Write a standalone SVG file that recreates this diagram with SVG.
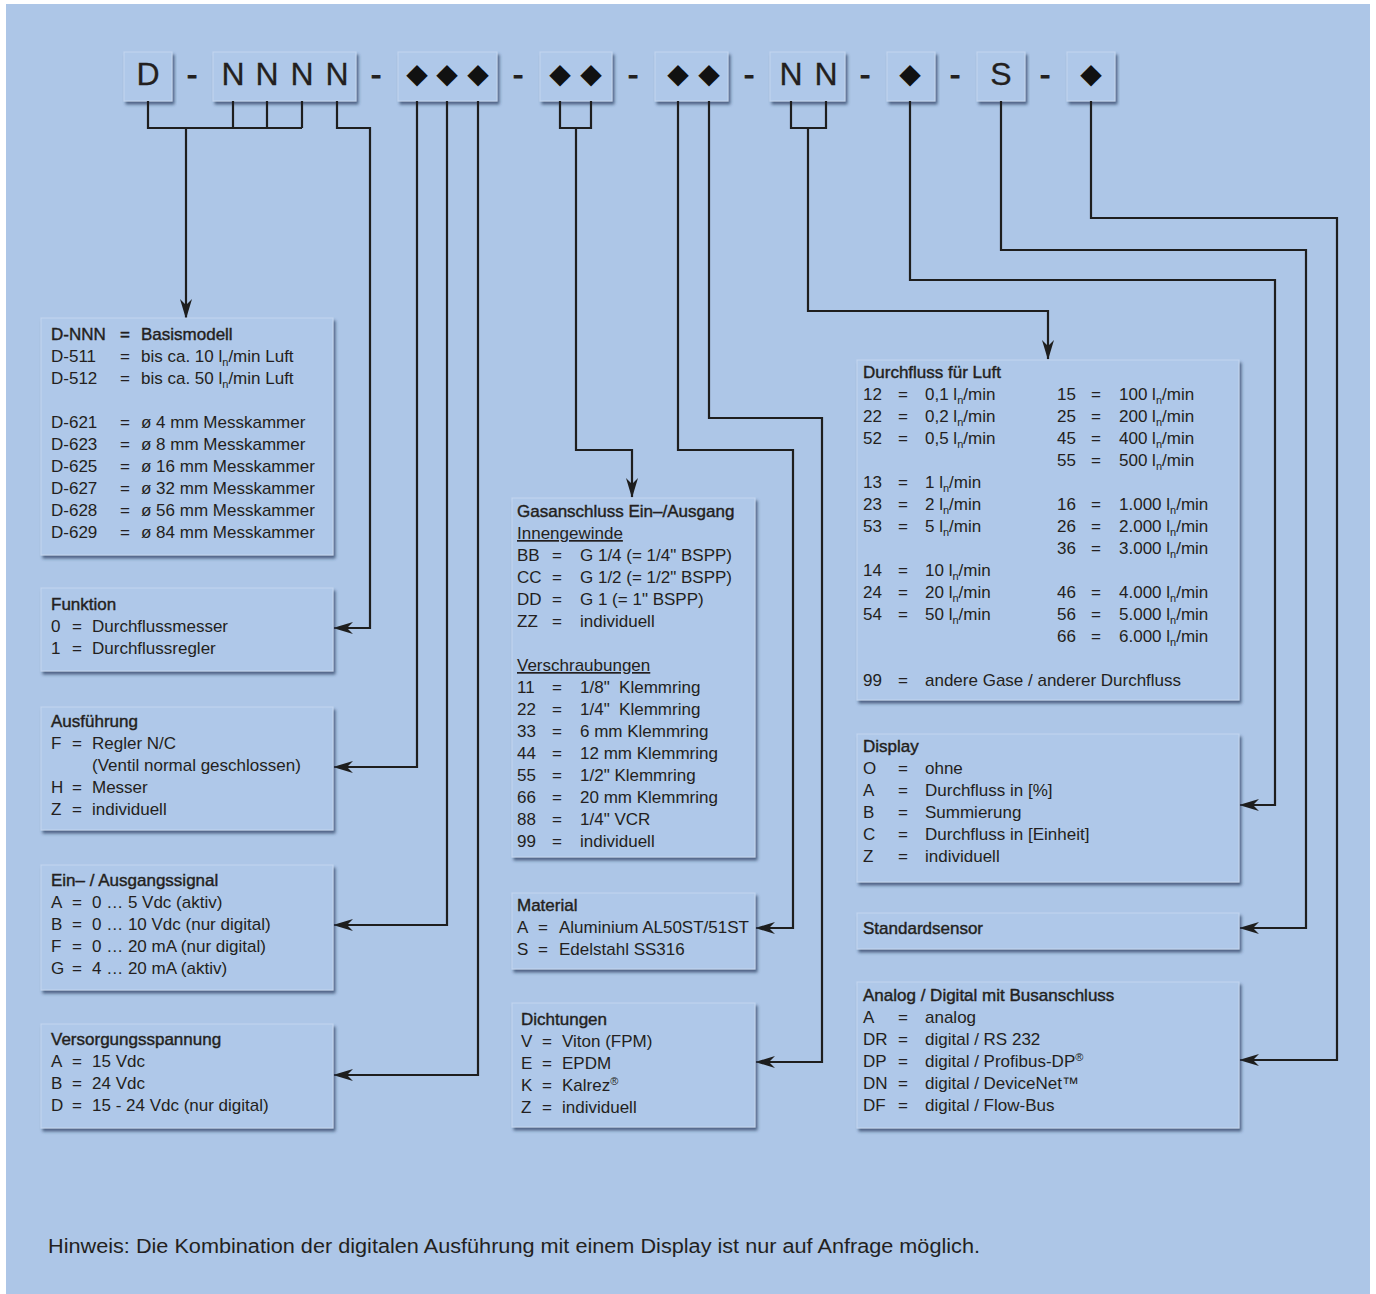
<svg xmlns="http://www.w3.org/2000/svg" width="1376" height="1294" viewBox="0 0 1376 1294">
<style>
.bg{fill:#adc6e7}
.box{fill:#afc8e9;stroke:#c3d6ef;stroke-width:1;filter:url(#sh)}
.t{font-family:"Liberation Sans",Arial,sans-serif;font-size:17px;fill:#231f20}
.h{stroke:#231f20;stroke-width:0.4}
.sb{font-size:11px}
.u{text-decoration:underline}
.big{font-family:"Liberation Sans",Arial,sans-serif;font-size:32px;fill:#231f20;text-anchor:middle;stroke:#231f20;stroke-width:0.3}
.dsh{font-family:"Liberation Sans",Arial,sans-serif;font-size:32px;fill:#231f20;text-anchor:middle;stroke:#231f20;stroke-width:0.9}
.dia{font-family:"DejaVu Sans",sans-serif;font-size:28px;fill:#111;text-anchor:middle}
.c{fill:none;stroke:#1e1e1e;stroke-width:2.2}
.ca{fill:none;stroke:#1e1e1e;stroke-width:2.2;marker-end:url(#ah)}
</style>
<defs>
<filter id="sh" x="-5%" y="-10%" width="115%" height="130%">
<feDropShadow dx="2" dy="3" stdDeviation="1.8" flood-color="#2f4264" flood-opacity="0.75"/>
</filter>
<marker id="ah" markerWidth="20" markerHeight="12" refX="19" refY="6" orient="auto" markerUnits="userSpaceOnUse">
<path d="M0,0 L20,6 L0,12 L6,6 Z" fill="#1e1e1e"/>
</marker>
</defs>
<rect class="bg" x="6" y="4" width="1364" height="1290"/>

<g id="header">
<g id="h-D"><rect class="box" x="124" y="52" width="48" height="49"/><text class="big" x="148" y="85">D</text></g>
<g id="h-NNNN"><rect class="box" x="213" y="52" width="143" height="49"/>
<text class="big" y="85"><tspan x="233">N</tspan><tspan x="267">N</tspan><tspan x="302">N</tspan><tspan x="337">N</tspan></text></g>
<g id="h-d3"><rect class="box" x="398" y="52" width="99" height="49"/>
<text class="dia" y="83"><tspan x="417">◆</tspan><tspan x="447">◆</tspan><tspan x="478">◆</tspan></text></g>
<g id="h-d2a"><rect class="box" x="540" y="52" width="72" height="49"/>
<text class="dia" y="83"><tspan x="560">◆</tspan><tspan x="591">◆</tspan></text></g>
<g id="h-d2b"><rect class="box" x="655" y="52" width="73" height="49"/>
<text class="dia" y="83"><tspan x="678">◆</tspan><tspan x="709">◆</tspan></text></g>
<g id="h-NN"><rect class="box" x="770" y="52" width="75" height="49"/>
<text class="big" y="85"><tspan x="791">N</tspan><tspan x="826">N</tspan></text></g>
<g id="h-d1a"><rect class="box" x="887" y="52" width="48" height="49"/><text class="dia" x="910" y="83">◆</text></g>
<g id="h-S"><rect class="box" x="977" y="52" width="48" height="49"/><text class="big" x="1001" y="85">S</text></g>
<g id="h-d1b"><rect class="box" x="1067" y="52" width="48" height="49"/><text class="dia" x="1091" y="83">◆</text></g>
<text class="dsh" y="85"><tspan x="192">-</tspan><tspan x="376">-</tspan><tspan x="518">-</tspan><tspan x="633">-</tspan><tspan x="749">-</tspan><tspan x="865">-</tspan><tspan x="955">-</tspan><tspan x="1045">-</tspan></text>
</g>

<g id="connectors">
<path class="c" d="M148,101 V128 H302 M233,101 V128 M267,101 V128 M302,101 V128"/>
<path class="ca" d="M186,128 V318"/>
<path class="ca" d="M337,101 V128 H370 V628 H334"/>
<path class="ca" d="M417,101 V767 H334"/>
<path class="ca" d="M447,101 V925 H334"/>
<path class="ca" d="M478,101 V1075 H334"/>
<path class="c" d="M560,101 V128 H591 V101"/>
<path class="ca" d="M576,128 V450 H632 V497"/>
<path class="ca" d="M678,101 V450 H793 V928 H756"/>
<path class="ca" d="M709,101 V418 H822 V1062 H756"/>
<path class="c" d="M791,101 V128 H826 V101"/>
<path class="ca" d="M808,128 V311 H1048 V359"/>
<path class="ca" d="M910,101 V280 H1275 V805 H1240"/>
<path class="ca" d="M1001,101 V250 H1306 V928 H1240"/>
<path class="ca" d="M1091,101 V218 H1337 V1060 H1240"/>
</g>

<g id="basismodell">
<rect class="box" x="41" y="318" width="292" height="237"/>
<text class="t h" y="340"><tspan x="51">D-NNN</tspan><tspan x="120">=</tspan><tspan x="141">Basismodell</tspan></text>
<text class="t" y="362"><tspan x="51">D-511</tspan><tspan x="120">=</tspan><tspan x="141">bis ca. 10 l<tspan class="sb" dy="4">n</tspan><tspan dy="-4">/min Luft</tspan></tspan></text>
<text class="t" y="384"><tspan x="51">D-512</tspan><tspan x="120">=</tspan><tspan x="141">bis ca. 50 l<tspan class="sb" dy="4">n</tspan><tspan dy="-4">/min Luft</tspan></tspan></text>
<text class="t" y="428"><tspan x="51">D-621</tspan><tspan x="120">=</tspan><tspan x="141">ø 4 mm Messkammer</tspan></text>
<text class="t" y="450"><tspan x="51">D-623</tspan><tspan x="120">=</tspan><tspan x="141">ø 8 mm Messkammer</tspan></text>
<text class="t" y="472"><tspan x="51">D-625</tspan><tspan x="120">=</tspan><tspan x="141">ø 16 mm Messkammer</tspan></text>
<text class="t" y="494"><tspan x="51">D-627</tspan><tspan x="120">=</tspan><tspan x="141">ø 32 mm Messkammer</tspan></text>
<text class="t" y="516"><tspan x="51">D-628</tspan><tspan x="120">=</tspan><tspan x="141">ø 56 mm Messkammer</tspan></text>
<text class="t" y="538"><tspan x="51">D-629</tspan><tspan x="120">=</tspan><tspan x="141">ø 84 mm Messkammer</tspan></text>
</g>

<g id="funktion">
<rect class="box" x="41" y="588" width="292" height="83"/>
<text class="t h" x="51" y="610">Funktion</text>
<text class="t" y="632"><tspan x="51">0</tspan><tspan x="72">=</tspan><tspan x="92">Durchflussmesser</tspan></text>
<text class="t" y="654"><tspan x="51">1</tspan><tspan x="72">=</tspan><tspan x="92">Durchflussregler</tspan></text>
</g>

<g id="ausfuehrung">
<rect class="box" x="41" y="707" width="292" height="123"/>
<text class="t h" x="51" y="727">Ausführung</text>
<text class="t" y="749"><tspan x="51">F</tspan><tspan x="72">=</tspan><tspan x="92">Regler N/C</tspan></text>
<text class="t" x="92" y="771">(Ventil normal geschlossen)</text>
<text class="t" y="793"><tspan x="51">H</tspan><tspan x="72">=</tspan><tspan x="92">Messer</tspan></text>
<text class="t" y="815"><tspan x="51">Z</tspan><tspan x="72">=</tspan><tspan x="92">individuell</tspan></text>
</g>

<g id="signal">
<rect class="box" x="41" y="865" width="292" height="125"/>
<text class="t h" x="51" y="886">Ein– / Ausgangssignal</text>
<text class="t" y="908"><tspan x="51">A</tspan><tspan x="72">=</tspan><tspan x="92">0 … 5 Vdc (aktiv)</tspan></text>
<text class="t" y="930"><tspan x="51">B</tspan><tspan x="72">=</tspan><tspan x="92">0 … 10 Vdc (nur digital)</tspan></text>
<text class="t" y="952"><tspan x="51">F</tspan><tspan x="72">=</tspan><tspan x="92">0 … 20 mA (nur digital)</tspan></text>
<text class="t" y="974"><tspan x="51">G</tspan><tspan x="72">=</tspan><tspan x="92">4 … 20 mA (aktiv)</tspan></text>
</g>

<g id="versorgung">
<rect class="box" x="41" y="1024" width="292" height="104"/>
<text class="t h" x="51" y="1045">Versorgungsspannung</text>
<text class="t" y="1067"><tspan x="51">A</tspan><tspan x="72">=</tspan><tspan x="92">15 Vdc</tspan></text>
<text class="t" y="1089"><tspan x="51">B</tspan><tspan x="72">=</tspan><tspan x="92">24 Vdc</tspan></text>
<text class="t" y="1111"><tspan x="51">D</tspan><tspan x="72">=</tspan><tspan x="92">15 - 24 Vdc (nur digital)</tspan></text>
</g>

<g id="gasanschluss">
<rect class="box" x="512" y="498" width="243" height="359"/>
<text class="t h" x="517" y="517">Gasanschluss Ein–/Ausgang</text>
<text class="t u" x="517" y="539">Innengewinde</text>
<text class="t" y="561"><tspan x="517">BB</tspan><tspan x="552">=</tspan><tspan x="580">G 1/4 (= 1/4" BSPP)</tspan></text>
<text class="t" y="583"><tspan x="517">CC</tspan><tspan x="552">=</tspan><tspan x="580">G 1/2 (= 1/2" BSPP)</tspan></text>
<text class="t" y="605"><tspan x="517">DD</tspan><tspan x="552">=</tspan><tspan x="580">G 1 (= 1" BSPP)</tspan></text>
<text class="t" y="627"><tspan x="517">ZZ</tspan><tspan x="552">=</tspan><tspan x="580">individuell</tspan></text>
<text class="t u" x="517" y="671">Verschraubungen</text>
<text class="t" y="693"><tspan x="517">11</tspan><tspan x="552">=</tspan><tspan x="580">1/8"&#160; Klemmring</tspan></text>
<text class="t" y="715"><tspan x="517">22</tspan><tspan x="552">=</tspan><tspan x="580">1/4"&#160; Klemmring</tspan></text>
<text class="t" y="737"><tspan x="517">33</tspan><tspan x="552">=</tspan><tspan x="580">6 mm Klemmring</tspan></text>
<text class="t" y="759"><tspan x="517">44</tspan><tspan x="552">=</tspan><tspan x="580">12 mm Klemmring</tspan></text>
<text class="t" y="781"><tspan x="517">55</tspan><tspan x="552">=</tspan><tspan x="580">1/2" Klemmring</tspan></text>
<text class="t" y="803"><tspan x="517">66</tspan><tspan x="552">=</tspan><tspan x="580">20 mm Klemmring</tspan></text>
<text class="t" y="825"><tspan x="517">88</tspan><tspan x="552">=</tspan><tspan x="580">1/4" VCR</tspan></text>
<text class="t" y="847"><tspan x="517">99</tspan><tspan x="552">=</tspan><tspan x="580">individuell</tspan></text>
</g>

<g id="material">
<rect class="box" x="512" y="893" width="243" height="76"/>
<text class="t h" x="517" y="911">Material</text>
<text class="t" y="933"><tspan x="517">A</tspan><tspan x="538">=</tspan><tspan x="559">Aluminium AL50ST/51ST</tspan></text>
<text class="t" y="955"><tspan x="517">S</tspan><tspan x="538">=</tspan><tspan x="559">Edelstahl SS316</tspan></text>
</g>

<g id="dichtungen">
<rect class="box" x="512" y="1003" width="243" height="124"/>
<text class="t h" x="521" y="1025">Dichtungen</text>
<text class="t" y="1047"><tspan x="521">V</tspan><tspan x="542">=</tspan><tspan x="562">Viton (FPM)</tspan></text>
<text class="t" y="1069"><tspan x="521">E</tspan><tspan x="542">=</tspan><tspan x="562">EPDM</tspan></text>
<text class="t" y="1091"><tspan x="521">K</tspan><tspan x="542">=</tspan><tspan x="562">Kalrez<tspan class="sb" dy="-6">®</tspan></tspan></text>
<text class="t" y="1113"><tspan x="521">Z</tspan><tspan x="542">=</tspan><tspan x="562">individuell</tspan></text>
</g>

<g id="durchfluss">
<rect class="box" x="857" y="360" width="382" height="340"/>
<text class="t h" x="863" y="378">Durchfluss für Luft</text>
<text class="t" y="400"><tspan x="863">12</tspan><tspan x="898">=</tspan><tspan x="925">0,1 l<tspan class="sb" dy="4">n</tspan><tspan dy="-4">/min</tspan></tspan><tspan x="1057">15</tspan><tspan x="1091">=</tspan><tspan x="1119">100 l<tspan class="sb" dy="4">n</tspan><tspan dy="-4">/min</tspan></tspan></text>
<text class="t" y="422"><tspan x="863">22</tspan><tspan x="898">=</tspan><tspan x="925">0,2 l<tspan class="sb" dy="4">n</tspan><tspan dy="-4">/min</tspan></tspan><tspan x="1057">25</tspan><tspan x="1091">=</tspan><tspan x="1119">200 l<tspan class="sb" dy="4">n</tspan><tspan dy="-4">/min</tspan></tspan></text>
<text class="t" y="444"><tspan x="863">52</tspan><tspan x="898">=</tspan><tspan x="925">0,5 l<tspan class="sb" dy="4">n</tspan><tspan dy="-4">/min</tspan></tspan><tspan x="1057">45</tspan><tspan x="1091">=</tspan><tspan x="1119">400 l<tspan class="sb" dy="4">n</tspan><tspan dy="-4">/min</tspan></tspan></text>
<text class="t" y="466"><tspan x="1057">55</tspan><tspan x="1091">=</tspan><tspan x="1119">500 l<tspan class="sb" dy="4">n</tspan><tspan dy="-4">/min</tspan></tspan></text>
<text class="t" y="488"><tspan x="863">13</tspan><tspan x="898">=</tspan><tspan x="925">1 l<tspan class="sb" dy="4">n</tspan><tspan dy="-4">/min</tspan></tspan></text>
<text class="t" y="510"><tspan x="863">23</tspan><tspan x="898">=</tspan><tspan x="925">2 l<tspan class="sb" dy="4">n</tspan><tspan dy="-4">/min</tspan></tspan><tspan x="1057">16</tspan><tspan x="1091">=</tspan><tspan x="1119">1.000 l<tspan class="sb" dy="4">n</tspan><tspan dy="-4">/min</tspan></tspan></text>
<text class="t" y="532"><tspan x="863">53</tspan><tspan x="898">=</tspan><tspan x="925">5 l<tspan class="sb" dy="4">n</tspan><tspan dy="-4">/min</tspan></tspan><tspan x="1057">26</tspan><tspan x="1091">=</tspan><tspan x="1119">2.000 l<tspan class="sb" dy="4">n</tspan><tspan dy="-4">/min</tspan></tspan></text>
<text class="t" y="554"><tspan x="1057">36</tspan><tspan x="1091">=</tspan><tspan x="1119">3.000 l<tspan class="sb" dy="4">n</tspan><tspan dy="-4">/min</tspan></tspan></text>
<text class="t" y="576"><tspan x="863">14</tspan><tspan x="898">=</tspan><tspan x="925">10 l<tspan class="sb" dy="4">n</tspan><tspan dy="-4">/min</tspan></tspan></text>
<text class="t" y="598"><tspan x="863">24</tspan><tspan x="898">=</tspan><tspan x="925">20 l<tspan class="sb" dy="4">n</tspan><tspan dy="-4">/min</tspan></tspan><tspan x="1057">46</tspan><tspan x="1091">=</tspan><tspan x="1119">4.000 l<tspan class="sb" dy="4">n</tspan><tspan dy="-4">/min</tspan></tspan></text>
<text class="t" y="620"><tspan x="863">54</tspan><tspan x="898">=</tspan><tspan x="925">50 l<tspan class="sb" dy="4">n</tspan><tspan dy="-4">/min</tspan></tspan><tspan x="1057">56</tspan><tspan x="1091">=</tspan><tspan x="1119">5.000 l<tspan class="sb" dy="4">n</tspan><tspan dy="-4">/min</tspan></tspan></text>
<text class="t" y="642"><tspan x="1057">66</tspan><tspan x="1091">=</tspan><tspan x="1119">6.000 l<tspan class="sb" dy="4">n</tspan><tspan dy="-4">/min</tspan></tspan></text>
<text class="t" y="686"><tspan x="863">99</tspan><tspan x="898">=</tspan><tspan x="925">andere Gase / anderer Durchfluss</tspan></text>
</g>

<g id="display">
<rect class="box" x="857" y="734" width="382" height="148"/>
<text class="t h" x="863" y="752">Display</text>
<text class="t" y="774"><tspan x="863">O</tspan><tspan x="898">=</tspan><tspan x="925">ohne</tspan></text>
<text class="t" y="796"><tspan x="863">A</tspan><tspan x="898">=</tspan><tspan x="925">Durchfluss in [%]</tspan></text>
<text class="t" y="818"><tspan x="863">B</tspan><tspan x="898">=</tspan><tspan x="925">Summierung</tspan></text>
<text class="t" y="840"><tspan x="863">C</tspan><tspan x="898">=</tspan><tspan x="925">Durchfluss in [Einheit]</tspan></text>
<text class="t" y="862"><tspan x="863">Z</tspan><tspan x="898">=</tspan><tspan x="925">individuell</tspan></text>
</g>

<g id="standardsensor">
<rect class="box" x="857" y="913" width="382" height="36"/>
<text class="t h" x="863" y="934">Standardsensor</text>
</g>

<g id="analogdigital">
<rect class="box" x="857" y="982" width="382" height="146"/>
<text class="t h" x="863" y="1001">Analog / Digital mit Busanschluss</text>
<text class="t" y="1023"><tspan x="863">A</tspan><tspan x="898">=</tspan><tspan x="925">analog</tspan></text>
<text class="t" y="1045"><tspan x="863">DR</tspan><tspan x="898">=</tspan><tspan x="925">digital / RS 232</tspan></text>
<text class="t" y="1067"><tspan x="863">DP</tspan><tspan x="898">=</tspan><tspan x="925">digital / Profibus-DP<tspan class="sb" dy="-6">®</tspan></tspan></text>
<text class="t" y="1089"><tspan x="863">DN</tspan><tspan x="898">=</tspan><tspan x="925">digital / DeviceNet™</tspan></text>
<text class="t" y="1111"><tspan x="863">DF</tspan><tspan x="898">=</tspan><tspan x="925">digital / Flow-Bus</tspan></text>
</g>

<text id="hinweis" class="t" x="48" y="1253" style="font-size:20px" textLength="932" lengthAdjust="spacingAndGlyphs">Hinweis: Die Kombination der digitalen Ausführung mit einem Display ist nur auf Anfrage möglich.</text>
</svg>
